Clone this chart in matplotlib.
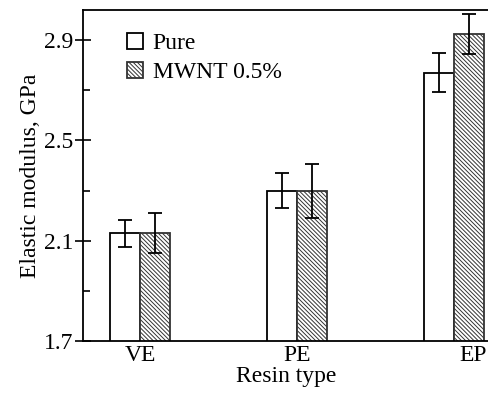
#Elastic modulus of resins with and without MWNT
import numpy as np
import matplotlib.pyplot as plt

plt.rcParams['font.family'] = 'Liberation Serif'
plt.rcParams['hatch.linewidth'] = 0.7

#data
resins = ['VE', 'PE', 'EP']
pure = [2.129, 2.299, 2.769]
pure_err = [0.054, 0.07, 0.078]
mwnt = [2.129, 2.299, 2.924]
mwnt_err = [0.08, 0.108, 0.08]

fig = plt.figure(figsize=(4.89, 3.93), dpi=100)
ax = fig.add_axes([83/489, 52/393, 406/489, 331/393])

x = np.arange(len(resins))
w = 0.19
ekw = dict(elinewidth=1.3, capthick=1.3, capsize=5, ecolor='black')
ax.bar(x - w/2, pure, w, yerr=pure_err, color='white', edgecolor='black',
       linewidth=1.3, label='Pure', error_kw=ekw)
ax.bar(x + w/2, mwnt, w, yerr=mwnt_err, color='white', edgecolor='#333333',
       hatch='\\' * 8, linewidth=1.3, label='MWNT 0.5%', error_kw=ekw)

ax.set_ylim(1.7, 3.02)
ax.set_xlim(-0.363, 2.223)
ax.set_yticks([1.7, 2.1, 2.5, 2.9])
ax.set_yticks([1.9, 2.3, 2.7], minor=True)
ax.set_xticks([0, 1, 2.12])
ax.set_xticklabels(resins)
ax.tick_params(axis='x', length=0, labelsize=17, pad=3)
ax.tick_params(axis='y', which='major', direction='inout', length=12, width=1.2,
               labelsize=17, pad=1)
ax.tick_params(axis='y', which='minor', direction='in', length=5, width=1.2)
ax.spines['right'].set_visible(False)
for s in ['left', 'top', 'bottom']:
    ax.spines[s].set_linewidth(1.3)

ax.set_ylabel('Elastic modulus, GPa', fontsize=17, labelpad=2)
ax.set_xlabel('Resin type', fontsize=17, labelpad=0)
ax.legend(loc='upper left', bbox_to_anchor=(0.055, 0.995), frameon=False, fontsize=17,
          handlelength=0.7, handleheight=0.7, handletextpad=0.4, labelspacing=0.3)

plt.savefig('out.png', dpi=100)
